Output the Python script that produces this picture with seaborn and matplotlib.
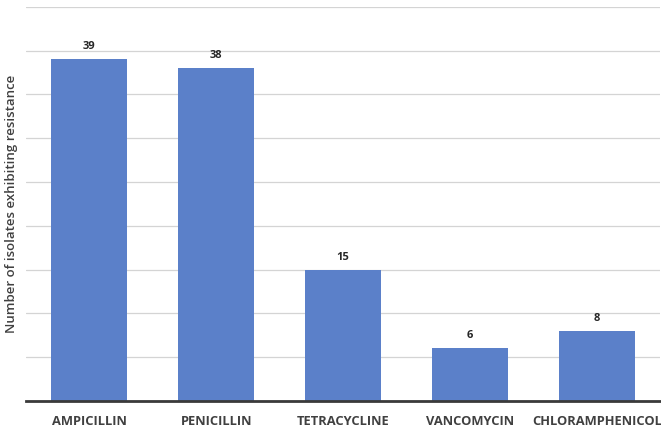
import matplotlib
matplotlib.use("Agg")
import matplotlib.pyplot as plt
import seaborn as sns
import pandas as pd

antibiotics = ["AMPICILLIN", "PENICILLIN", "TETRACYCLINE", "VANCOMYCIN", "CHLORAMPHENICOL"]
resistant_counts = [39, 38, 15, 6, 8]
y_gridlines = [0, 5, 10, 15, 20, 25, 30, 35, 40, 45]

df = pd.DataFrame({"antibiotic": antibiotics, "count": resistant_counts})

sns.set_theme(style="white")
plt.rcParams["font.family"] = ["Open Sans", "DejaVu Sans"]

fig = plt.figure(figsize=(6.61, 4.32), dpi=100)
ax = fig.add_axes([0.039, 0.072, 0.96, 0.912])

sns.barplot(data=df, x="antibiotic", y="count", color="#5B80C9",
            width=0.6, saturation=1, ax=ax, zorder=3, edgecolor="none")

ax.set_ylim(0, 45)
ax.set_xlim(-0.5, 4.5)
ax.set_yticks(y_gridlines)
ax.set_yticklabels([])
ax.tick_params(axis="y", length=0)
ax.tick_params(axis="x", length=0, pad=10)
ax.grid(axis="y", color="#d4d4d4", linewidth=0.9, zorder=0)
for side in ["top", "right", "left"]:
    ax.spines[side].set_visible(False)
ax.spines["bottom"].set_color("#3a3a3a")
ax.spines["bottom"].set_linewidth(2.0)
ax.spines["bottom"].set_zorder(4)

for lbl in ax.get_xticklabels():
    lbl.set_fontsize(9.3)
    lbl.set_fontweight("bold")
    lbl.set_color("#404040")

for i, v in enumerate(resistant_counts):
    ax.annotate(str(v), (i, v), xytext=(0, 5), textcoords="offset points",
                ha="center", va="bottom", fontsize=8, fontweight="bold",
                color="#262626")

ax.set_xlabel("")
ax.set_ylabel("Number of isolates exhibiting resistance", fontsize=9.5,
              fontweight="semibold", color="#404040", labelpad=2)

fig.savefig("out.png", dpi=100)
